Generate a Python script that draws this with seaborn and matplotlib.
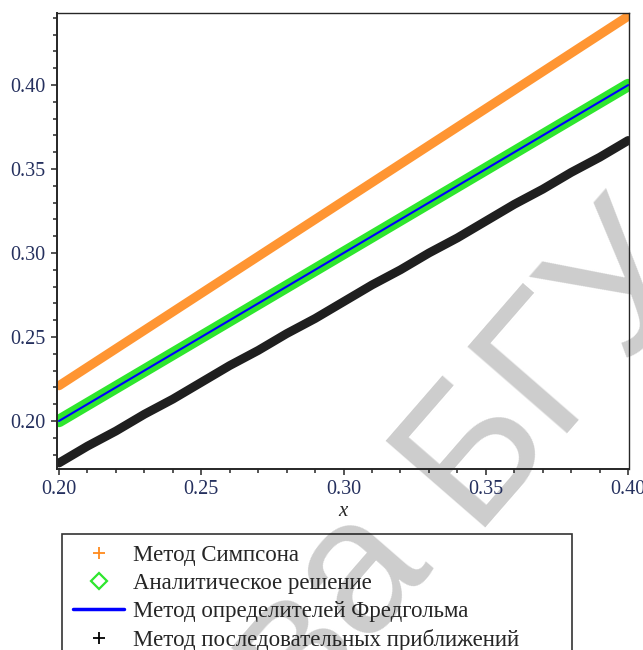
import matplotlib

matplotlib.use("Agg")
import matplotlib.pyplot as plt
import seaborn as sns
from matplotlib.lines import Line2D
from matplotlib.ticker import MultipleLocator, FormatStrFormatter

# values
x_values = [0.20, 0.21, 0.22, 0.23, 0.24, 0.25, 0.26, 0.27, 0.28, 0.29, 0.30,
            0.31, 0.32, 0.33, 0.34, 0.35, 0.36, 0.37, 0.38, 0.39, 0.40]
simpson = [0.221, 0.232, 0.243, 0.254, 0.265, 0.276, 0.287, 0.298, 0.309, 0.320, 0.331,
           0.342, 0.353, 0.364, 0.375, 0.386, 0.397, 0.408, 0.419, 0.430, 0.441]
analytic = [0.200, 0.210, 0.220, 0.230, 0.240, 0.250, 0.260, 0.270, 0.280, 0.290, 0.300,
            0.310, 0.320, 0.330, 0.340, 0.350, 0.360, 0.370, 0.380, 0.390, 0.400]
fredholm = [0.200, 0.210, 0.220, 0.230, 0.240, 0.250, 0.260, 0.270, 0.280, 0.290, 0.300,
            0.310, 0.320, 0.330, 0.340, 0.350, 0.360, 0.370, 0.380, 0.390, 0.400]
successive = [0.175, 0.185, 0.194, 0.204, 0.213, 0.223, 0.233, 0.242, 0.252, 0.261, 0.271,
              0.281, 0.290, 0.300, 0.309, 0.319, 0.329, 0.338, 0.348, 0.357, 0.367]

labels = [
    "Метод Симпсона",
    "Аналитическое решение",
    "Метод определителей Фредгольма",
    "Метод последовательных приближений",
]

ORANGE = "#ff8a1c"
GREEN = "#2ee62e"
BLUE = "#0000ff"
BLACK = "#000000"
TICK_COLOR = "#25305e"
W, H = 643, 650

sns.set_style("ticks")
plt.rcParams["font.family"] = ["Liberation Serif", "DejaVu Serif"]

fig = plt.figure(figsize=(W / 100, H / 100), dpi=100, facecolor="white")
ax = fig.add_axes([57 / W, 1 - 468.5 / H, 572 / W, 455.5 / H])
ax.patch.set_alpha(0)

# watermark of the source document, behind the plot
wm = dict(fontsize=138, color="#cdcdcd", rotation=49, rotation_mode="anchor",
          va="baseline", zorder=-1, family=["Liberation Sans", "DejaVu Sans"])
fig.text(470 / W, 1 - 528 / H, "БГУ", ha="left", **wm)
fig.text(470 / W, 1 - 528 / H, "ва ", ha="right", **wm)

sns.lineplot(x=x_values, y=simpson, ax=ax, color=ORANGE, lw=6.6, alpha=0.9)
sns.lineplot(x=x_values, y=analytic, ax=ax, color=GREEN, lw=9)
sns.lineplot(x=x_values, y=fredholm, ax=ax, color=BLUE, lw=1.5)
sns.lineplot(x=x_values, y=successive, ax=ax, color=BLACK, lw=6.4, alpha=0.88)

ax.set_xlim(0.1993, 0.4003)
ax.set_ylim(0.1717, 0.4429)
ax.xaxis.set_major_locator(MultipleLocator(0.05))
ax.xaxis.set_minor_locator(MultipleLocator(0.01))
ax.yaxis.set_major_locator(MultipleLocator(0.05))
ax.yaxis.set_minor_locator(MultipleLocator(0.01))
ax.xaxis.set_major_formatter(FormatStrFormatter("%.2f"))
ax.yaxis.set_major_formatter(FormatStrFormatter("%.2f"))
ax.tick_params(which="major", direction="out", length=4.5, width=1.1,
               labelsize=14.5, labelcolor=TICK_COLOR, pad=4)
ax.tick_params(which="minor", direction="out", length=3.2, width=1.1)
ax.tick_params(top=False, right=False, which="both")

for side in ["left", "bottom"]:
    ax.spines[side].set_linewidth(1.4)
for side in ["top", "right"]:
    ax.spines[side].set_visible(True)
    ax.spines[side].set_linewidth(1.0)

ax.set_xlabel("x", fontsize=15, style="italic", labelpad=2)

handles = [
    Line2D([], [], ls="none", marker="+", color=ORANGE, markersize=8, mew=1.3),
    Line2D([], [], ls="none", marker="D", mfc="none", mec=GREEN, markersize=8, mew=1.6),
    Line2D([], [], color=BLUE, lw=2.5),
    Line2D([], [], ls="none", marker="+", color=BLACK, markersize=8, mew=1.3),
]
legend = fig.legend(handles, labels, loc="upper left", mode="expand",
                    bbox_to_anchor=(62 / W, 0, 510 / W, 1 - 534 / H),
                    bbox_transform=fig.transFigure,
                    fontsize=16.5, frameon=True, fancybox=False, facecolor="none",
                    edgecolor="black", handlelength=2.2, handletextpad=0.4,
                    labelspacing=0.3, borderpad=0.5, borderaxespad=0)
legend.get_frame().set_linewidth(1.2)

fig.savefig("out.png", dpi=100)
